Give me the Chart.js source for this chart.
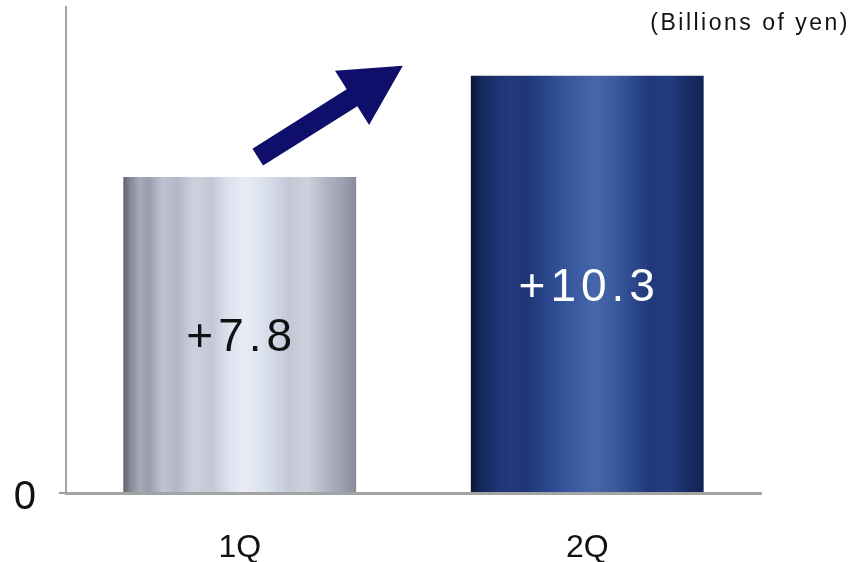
<!DOCTYPE html>
<html>
<head>
<meta charset="utf-8">
<script src="https://cdn.jsdelivr.net/npm/chart.js@4/dist/chart.umd.min.js"></script>
<style>
  html, body { margin: 0; padding: 0; background: #ffffff; }
  #wrap { width: 853px; height: 562px; }
</style>
</head>
<body>
<div id="wrap"><canvas id="chart" width="853" height="562"></canvas></div>
<script>
// Quarterly change, billions of yen
const categories = ['1Q', '2Q'];
const values = [7.8, 10.3];
const valueLabels = ['+7.8', '+10.3'];
const yTickValues = [0];
const unitLabel = '(Billions of yen)';

const FONT = '"Liberation Sans", Arial, sans-serif';
const BAR_PCT = 0.67;

// Streaked metallic fills, stops across the bar width
const silverStops = [
  [0.00, '#5e626d'], [0.03, '#868a97'], [0.07, '#a6aab8'], [0.11, '#9a9eac'],
  [0.17, '#bfc3d1'], [0.23, '#b2b6c6'], [0.30, '#cdd1de'], [0.38, '#c4c8d6'],
  [0.45, '#dde1ed'], [0.52, '#e9ecf6'], [0.58, '#dfe4f1'], [0.64, '#d5dae8'],
  [0.71, '#c4c8d6'], [0.79, '#cdd1dd'], [0.87, '#b1b5c3'], [0.94, '#9da1b0'],
  [1.00, '#878b99']
];
const navyStops = [
  [0.00, '#0b1531'], [0.04, '#152658'], [0.10, '#1c3270'], [0.17, '#233b7d'],
  [0.24, '#1e3674'], [0.33, '#2b488d'], [0.43, '#39589e'], [0.53, '#4666a9'],
  [0.61, '#3e5ca0'], [0.69, '#2d4a8e'], [0.77, '#21387a'], [0.85, '#243d80'],
  [0.92, '#1a2e68'], [1.00, '#132250']
];
const barStops = [silverStops, navyStops];
const fallback = ['#c6cad8', '#2a4488'];

function barFill(ctx) {
  const chart = ctx.chart;
  const i = ctx.dataIndex;
  if (!chart.chartArea || i === undefined) return fallback[i || 0];
  const xs = chart.scales.x;
  const center = xs.getPixelForValue(i);
  const w = (xs.width / categories.length) * BAR_PCT;
  const g = chart.ctx.createLinearGradient(center - w / 2, 0, center + w / 2, 0);
  barStops[i].forEach(([o, c]) => g.addColorStop(o, c));
  return g;
}

// Value labels inside the bars
const valueLabelPlugin = {
  id: 'valueLabels',
  afterDatasetsDraw(chart) {
    const ctx = chart.ctx;
    const meta = chart.getDatasetMeta(0);
    ctx.save();
    ctx.font = '46px ' + FONT;
    ctx.letterSpacing = '5px';
    ctx.textAlign = 'center';
    ctx.textBaseline = 'middle';
    meta.data.forEach((bar, i) => {
      const cy = (bar.y + bar.base) / 2 + 4;
      ctx.fillStyle = i === 0 ? '#111111' : '#ffffff';
      ctx.fillText(valueLabels[i], bar.x + 2, cy);
    });
    ctx.restore();
  }
};

// Upward arrow from the first bar towards the second
const growthArrowPlugin = {
  id: 'growthArrow',
  afterDatasetsDraw(chart) {
    const meta = chart.getDatasetMeta(0);
    const b1 = meta.data[0], b2 = meta.data[1];
    if (!b1 || !b2) return;
    const tail = { x: b1.x + 18, y: b1.y - 20 };
    const tip = { x: b2.x - b2.width / 2 - 68, y: b2.y - 10 };
    const dx = tip.x - tail.x, dy = tip.y - tail.y;
    const len = Math.hypot(dx, dy);
    const ux = dx / len, uy = dy / len;
    const nx = -uy, ny = ux;
    const shaftHalf = 10, headHalf = 32, headLen = 60;
    const bx = tip.x - ux * headLen, by = tip.y - uy * headLen;
    const ctx = chart.ctx;
    ctx.save();
    ctx.fillStyle = '#0f0f6b';
    ctx.beginPath();
    ctx.moveTo(tail.x + nx * shaftHalf, tail.y + ny * shaftHalf);
    ctx.lineTo(bx + nx * shaftHalf, by + ny * shaftHalf);
    ctx.lineTo(bx + nx * headHalf, by + ny * headHalf);
    ctx.lineTo(tip.x, tip.y);
    ctx.lineTo(bx - nx * headHalf, by - ny * headHalf);
    ctx.lineTo(bx - nx * shaftHalf, by - ny * shaftHalf);
    ctx.lineTo(tail.x - nx * shaftHalf, tail.y - ny * shaftHalf);
    ctx.closePath();
    ctx.fill();
    ctx.restore();
  }
};

// Unit note in the top right corner
const unitPlugin = {
  id: 'unitNote',
  afterDraw(chart) {
    const ctx = chart.ctx;
    ctx.save();
    ctx.font = '23px ' + FONT;
    ctx.letterSpacing = '2.5px';
    ctx.fillStyle = '#111111';
    ctx.textAlign = 'right';
    ctx.textBaseline = 'alphabetic';
    ctx.fillText(unitLabel, chart.width - 3, 30);
    ctx.restore();
  }
};

new Chart(document.getElementById('chart'), {
  type: 'bar',
  data: {
    labels: categories,
    datasets: [{
      data: values,
      backgroundColor: barFill,
      borderWidth: 0,
      barPercentage: BAR_PCT,
      categoryPercentage: 1.0
    }]
  },
  options: {
    responsive: false,
    animation: false,
    devicePixelRatio: 1,
    layout: { padding: { left: 0, right: 92, top: 7, bottom: 0 } },
    plugins: {
      legend: { display: false },
      tooltip: { enabled: false },
      title: { display: false }
    },
    scales: {
      x: {
        afterFit(scale) { scale.height = 69; scale.paddingLeft = 0; scale.paddingRight = 0; },
        grid: { display: false, drawTicks: false },
        border: { display: true, color: '#a3a3a3', width: 3 },
        ticks: {
          color: '#111111',
          font: { family: FONT, size: 32 },
          padding: 36
        }
      },
      y: {
        min: 0,
        max: 12,
        afterFit(scale) { scale.width = 66; scale.paddingTop = 0; scale.paddingBottom = 0; },
        afterBuildTicks(scale) { scale.ticks = yTickValues.map(v => ({ value: v })); },
        grid: {
          display: true,
          drawOnChartArea: false,
          drawTicks: true,
          tickLength: 7,
          color: '#9a9a9a',
          lineWidth: 2
        },
        border: { display: true, color: '#a3a3a3', width: 2 },
        ticks: {
          color: '#111111',
          font: { family: FONT, size: 40 },
          padding: 23,
          labelOffset: 5,
          callback: v => String(v)
        }
      }
    }
  },
  plugins: [valueLabelPlugin, growthArrowPlugin, unitPlugin]
});
</script>
</body>
</html>
